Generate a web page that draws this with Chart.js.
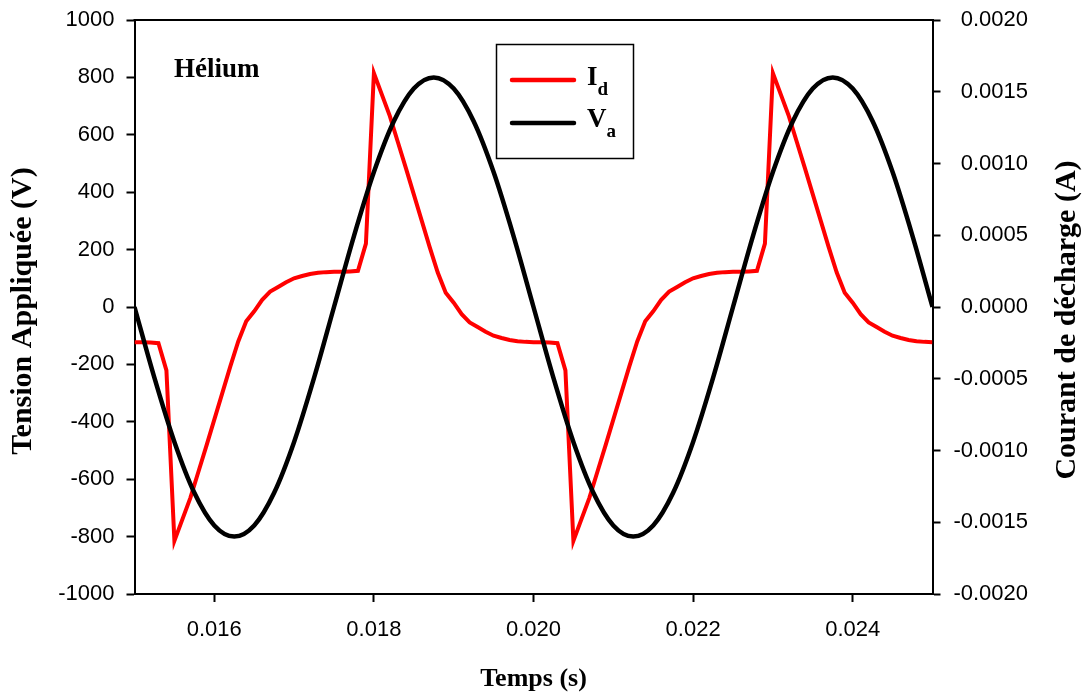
<!DOCTYPE html>
<html lang="fr">
<head>
<meta charset="utf-8">
<title>Hélium - Id et Va</title>
<script src="https://cdn.jsdelivr.net/npm/chart.js@4.4.1/dist/chart.umd.min.js"></script>
<style>
  html, body { margin: 0; padding: 0; background: #fff; }
  #wrap { width: 1083px; height: 693px; position: relative; }
</style>
</head>
<body>
<div id="wrap"><canvas id="myChart"></canvas></div>
<script>
// Tension appliquée Va (V), un point tous les 0.25 ms
const tempsV = [
  0.01500, 0.01525, 0.01550, 0.01575, 0.01600, 0.01625, 0.01650, 0.01675, 0.01700, 0.01725,
  0.01750, 0.01775, 0.01800, 0.01825, 0.01850, 0.01875, 0.01900, 0.01925, 0.01950, 0.01975,
  0.02000, 0.02025, 0.02050, 0.02075, 0.02100, 0.02125, 0.02150, 0.02175, 0.02200, 0.02225,
  0.02250, 0.02275, 0.02300, 0.02325, 0.02350, 0.02375, 0.02400, 0.02425, 0.02450, 0.02475,
  0.02500
];
const tensionV = [
  0, -247, -470, -647, -761, -800, -761, -647, -470, -247,
  0, 247, 470, 647, 761, 800, 761, 647, 470, 247,
  0, -247, -470, -647, -761, -800, -761, -647, -470, -247,
  0, 247, 470, 647, 761, 800, 761, 647, 470, 247,
  0
];

// Courant de décharge Id (A), un point tous les 0.1 ms
const tempsI = [
  0.0150, 0.0151, 0.0152, 0.0153, 0.0154, 0.0155, 0.0156, 0.0157, 0.0158, 0.0159,
  0.0160, 0.0161, 0.0162, 0.0163, 0.0164, 0.0165, 0.0166, 0.0167, 0.0168, 0.0169,
  0.0170, 0.0171, 0.0172, 0.0173, 0.0174, 0.0175, 0.0176, 0.0177, 0.0178, 0.0179,
  0.0180, 0.0181, 0.0182, 0.0183, 0.0184, 0.0185, 0.0186, 0.0187, 0.0188, 0.0189,
  0.0190, 0.0191, 0.0192, 0.0193, 0.0194, 0.0195, 0.0196, 0.0197, 0.0198, 0.0199,
  0.0200, 0.0201, 0.0202, 0.0203, 0.0204, 0.0205, 0.0206, 0.0207, 0.0208, 0.0209,
  0.0210, 0.0211, 0.0212, 0.0213, 0.0214, 0.0215, 0.0216, 0.0217, 0.0218, 0.0219,
  0.0220, 0.0221, 0.0222, 0.0223, 0.0224, 0.0225, 0.0226, 0.0227, 0.0228, 0.0229,
  0.0230, 0.0231, 0.0232, 0.0233, 0.0234, 0.0235, 0.0236, 0.0237, 0.0238, 0.0239,
  0.0240, 0.0241, 0.0242, 0.0243, 0.0244, 0.0245, 0.0246, 0.0247, 0.0248, 0.0249,
  0.0250
];
const courantI = [
  -0.000245, -0.000245, -0.000248, -0.000252, -0.000442, -0.001630, -0.001480, -0.001330, -0.001150, -0.000970,
  -0.000785, -0.000600, -0.000415, -0.000240, -0.000100, -0.000030, 0.000050, 0.000107, 0.000140, 0.000172,
  0.000200, 0.000216, 0.000230, 0.000238, 0.000243, 0.000245, 0.000245, 0.000248, 0.000252, 0.000442,
  0.001630, 0.001480, 0.001330, 0.001150, 0.000970, 0.000785, 0.000600, 0.000415, 0.000240, 0.000100,
  0.000030, -0.000050, -0.000107, -0.000140, -0.000172, -0.000200, -0.000216, -0.000230, -0.000238, -0.000243,
  -0.000245, -0.000245, -0.000248, -0.000252, -0.000442, -0.001630, -0.001480, -0.001330, -0.001150, -0.000970,
  -0.000785, -0.000600, -0.000415, -0.000240, -0.000100, -0.000030, 0.000050, 0.000107, 0.000140, 0.000172,
  0.000200, 0.000216, 0.000230, 0.000238, 0.000243, 0.000245, 0.000245, 0.000248, 0.000252, 0.000442,
  0.001630, 0.001480, 0.001330, 0.001150, 0.000970, 0.000785, 0.000600, 0.000415, 0.000240, 0.000100,
  0.000030, -0.000050, -0.000107, -0.000140, -0.000172, -0.000200, -0.000216, -0.000230, -0.000238, -0.000243,
  -0.000245
];

// graduations
const graduationsX = [0.016, 0.018, 0.020, 0.022, 0.024];
const graduationsV = [-1000, -800, -600, -400, -200, 0, 200, 400, 600, 800, 1000];
const graduationsI = [-0.0020, -0.0015, -0.0010, -0.0005, 0, 0.0005, 0.0010, 0.0015, 0.0020];

const serif = "'Liberation Serif', 'Times New Roman', serif";
const sans = "'Liberation Sans', Arial, sans-serif";

// texts drawn on the canvas: titles, label, legend
const annotations = {
  id: 'annotations',
  afterDraw(chart) {
    const ctx = chart.ctx;
    const a = chart.chartArea;
    ctx.save();

    // top frame line
    ctx.strokeStyle = '#000';
    ctx.lineWidth = 2;
    ctx.beginPath();
    ctx.moveTo(a.left - 1, a.top);
    ctx.lineTo(a.right + 1, a.top);
    ctx.stroke();

    ctx.fillStyle = '#000';
    ctx.textBaseline = 'alphabetic';

    // Hélium
    ctx.font = 'bold 27px ' + serif;
    ctx.textAlign = 'left';
    ctx.fillText('Hélium', 174, 77);

    // x title
    ctx.font = 'bold 26px ' + serif;
    ctx.textAlign = 'center';
    ctx.fillText('Temps (s)', (a.left + a.right) / 2, 686);

    // y titles
    ctx.font = 'bold 30px ' + serif;
    ctx.textBaseline = 'middle';
    ctx.save();
    ctx.translate(23, 311);
    ctx.rotate(-Math.PI / 2);
    ctx.fillText('Tension Appliquée (V)', 0, 0);
    ctx.restore();
    ctx.save();
    ctx.translate(1067, 320);
    ctx.rotate(-Math.PI / 2);
    ctx.fillText('Courant de décharge (A)', 0, 0);
    ctx.restore();

    // legend
    ctx.lineWidth = 1.5;
    ctx.strokeRect(496.5, 44.5, 137, 114);
    ctx.lineCap = 'round';
    ctx.lineWidth = 4.5;
    ctx.strokeStyle = '#ff0000';
    ctx.beginPath(); ctx.moveTo(512, 80); ctx.lineTo(574, 80); ctx.stroke();
    ctx.strokeStyle = '#000';
    ctx.beginPath(); ctx.moveTo(512, 123); ctx.lineTo(574, 123); ctx.stroke();

    ctx.textAlign = 'left';
    ctx.textBaseline = 'alphabetic';
    ctx.font = 'bold 27px ' + serif;
    ctx.fillText('I', 587, 85);
    let w = ctx.measureText('I').width;
    ctx.fillText('V', 587, 127);
    let wv = ctx.measureText('V').width;
    ctx.font = 'bold 19px ' + serif;
    ctx.fillText('d', 587 + w, 95);
    ctx.fillText('a', 587 + wv, 137);

    ctx.restore();
  }
};

const axe = (extra) => Object.assign({
  border: { display: true, color: '#000', width: 2 },
  grid: { display: true, drawOnChartArea: false, drawTicks: true, tickLength: 8, tickColor: '#000', tickWidth: 2 },
}, extra);

const fixY = (w) => (s) => { s.width = w; s.paddingTop = 0; s.paddingBottom = 0; };

const config = {
  type: 'line',
  data: {
    datasets: [{
      label: 'Va',
      data: tempsV.map((t, i) => ({ x: t, y: tensionV[i] })),
      yAxisID: 'y',
      borderColor: '#000000',
      borderWidth: 4.5,
      pointRadius: 0,
      cubicInterpolationMode: 'monotone',
      fill: false
    }, {
      label: 'Id',
      data: tempsI.map((t, i) => ({ x: t, y: courantI[i] })),
      yAxisID: 'y1',
      borderColor: '#ff0000',
      borderWidth: 4,
      pointRadius: 0,
      tension: 0,
      fill: false
    }]
  },
  options: {
    responsive: true,
    maintainAspectRatio: false,
    animation: false,
    layout: { padding: { top: 20, left: 0, right: 55, bottom: 0 } },
    plugins: { legend: { display: false }, tooltip: { enabled: false } },
    scales: {
      x: axe({
        type: 'linear',
        position: 'bottom',
        min: 0.015,
        max: 0.025,
        afterBuildTicks: s => { s.ticks = graduationsX.map(v => ({ value: v })); },
        afterFit: s => { s.height = 99; s.paddingLeft = 0; s.paddingRight = 0; },
        ticks: {
          autoSkip: false, maxRotation: 0, padding: 15, color: '#000',
          font: { family: sans, size: 22 },
          callback: v => v.toFixed(3)
        }
      }),
      y: axe({
        type: 'linear',
        position: 'left',
        min: -1000,
        max: 1000,
        afterBuildTicks: s => { s.ticks = graduationsV.map(v => ({ value: v })); },
        afterFit: fixY(134.5),
        ticks: {
          autoSkip: false, padding: 12, color: '#000',
          font: { family: sans, size: 22 },
          callback: v => String(Math.round(v))
        }
      }),
      y1: axe({
        type: 'linear',
        position: 'right',
        min: -0.002,
        max: 0.002,
        afterBuildTicks: s => { s.ticks = graduationsI.map(v => ({ value: v })); },
        afterFit: fixY(95.5),
        ticks: {
          autoSkip: false, padding: 12, color: '#000', crossAlign: 'far',
          font: { family: sans, size: 22 },
          callback: v => (Math.abs(v) < 1e-12 ? 0 : v).toFixed(4)
        }
      })
    }
  },
  plugins: [annotations]
};

const myChart = new Chart(document.getElementById('myChart'), config);
</script>
</body>
</html>
